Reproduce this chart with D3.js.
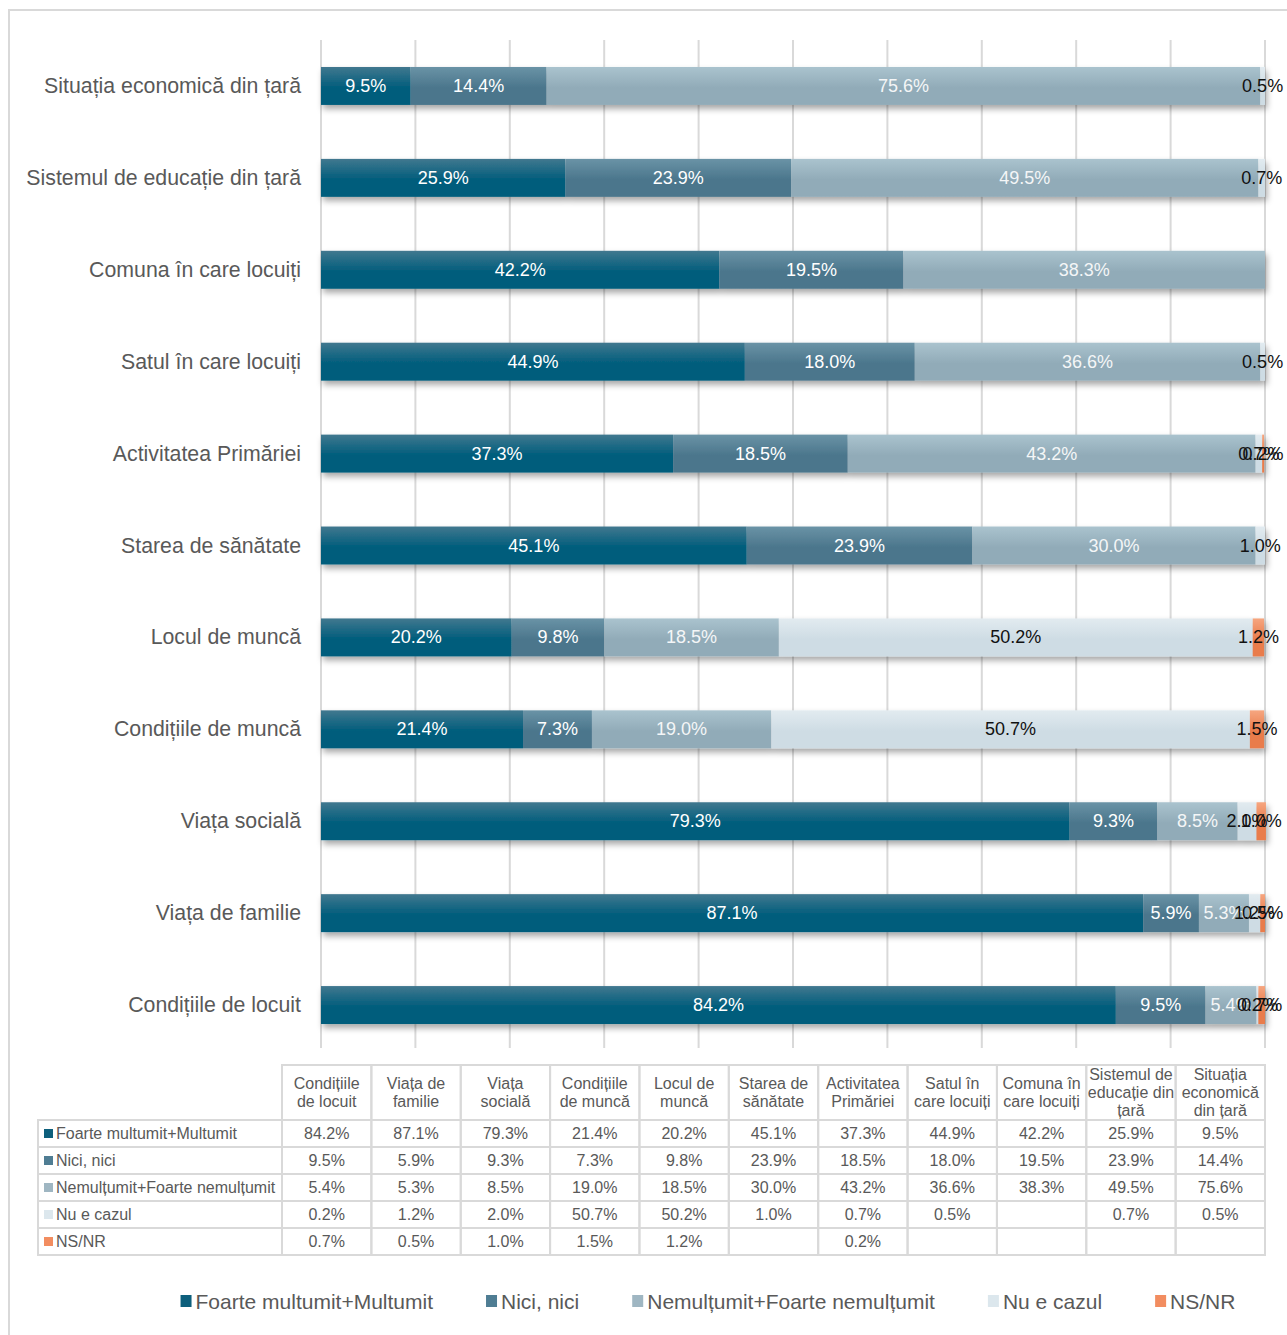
<!DOCTYPE html>
<html>
<head>
<meta charset="utf-8">
<script src="https://cdn.jsdelivr.net/npm/d3@7"></script>
<style>
  body { margin: 0; background: #fff; }
  text { font-family: "Liberation Sans", Arial, sans-serif; }
</style>
</head>
<body>
<svg id="chart"></svg>
<script>
// categories in table order (first one is drawn at the bottom of the bar chart)
const categories = ["Condițiile de locuit", "Viața de familie", "Viața socială", "Condițiile de muncă",
  "Locul de muncă", "Starea de sănătate", "Activitatea Primăriei", "Satul în care locuiți",
  "Comuna în care locuiți", "Sistemul de educație din țară", "Situația economică din țară"];
const headerLines = [["Condițiile", "de locuit"], ["Viața de", "familie"], ["Viața", "socială"],
  ["Condițiile", "de muncă"], ["Locul de", "muncă"], ["Starea de", "sănătate"], ["Activitatea", "Primăriei"],
  ["Satul în", "care locuiți"], ["Comuna în", "care locuiți"], ["Sistemul de", "educație din", "țară"],
  ["Situația", "economică", "din țară"]];

const seriesNames = ["Foarte multumit+Multumit", "Nici, nici", "Nemulțumit+Foarte nemulțumit", "Nu e cazul", "NS/NR"];
const foarte = [84.2, 87.1, 79.3, 21.4, 20.2, 45.1, 37.3, 44.9, 42.2, 25.9, 9.5];
const nici = [9.5, 5.9, 9.3, 7.3, 9.8, 23.9, 18.5, 18.0, 19.5, 23.9, 14.4];
const nemultumit = [5.4, 5.3, 8.5, 19.0, 18.5, 30.0, 43.2, 36.6, 38.3, 49.5, 75.6];
const nuECazul = [0.2, 1.2, 2.0, 50.7, 50.2, 1.0, 0.7, 0.5, null, 0.7, 0.5];
const nsnr = [0.7, 0.5, 1.0, 1.5, 1.2, null, 0.2, null, null, null, null];
const seriesValues = [foarte, nici, nemultumit, nuECazul, nsnr];

const flatColors = ["#0d5f7c", "#4f7d93", "#9fb6c2", "#dce7ed", "#f28d60"];
const gradTop = ["#41788f", "#6a93a6", "#aac3ce", "#e2ebf0", "#f6a680"];
const gradBot = ["#005d7c", "#4b768c", "#91abb8", "#cedce4", "#e97c4c"];
const labelColors = ["#ffffff", "#ffffff", "#f4f6f7", "#111111", "#111111"];

const W = 1287, H = 1335;
const svg = d3.select("#chart").attr("width", W).attr("height", H);

const defs = svg.append("defs");
seriesNames.forEach((s, i) => {
  const g = defs.append("linearGradient").attr("id", "grad" + i)
    .attr("x1", 0).attr("y1", 0).attr("x2", 0).attr("y2", 1);
  g.append("stop").attr("offset", "0%").attr("stop-color", gradTop[i]);
  g.append("stop").attr("offset", "55%").attr("stop-color", gradBot[i]);
  g.append("stop").attr("offset", "100%").attr("stop-color", gradBot[i]);
});
const f = defs.append("filter").attr("id", "shadow")
  .attr("x", "-5%").attr("y", "-30%").attr("width", "110%").attr("height", "180%");
f.append("feDropShadow").attr("dx", 2).attr("dy", 4).attr("stdDeviation", 3)
  .attr("flood-color", "#000").attr("flood-opacity", 0.35);

// outer frame
svg.append("rect").attr("x", 9).attr("y", 10).attr("width", W + 20).attr("height", H + 20)
  .attr("fill", "none").attr("stroke", "#d9d9d9").attr("stroke-width", 2);

const x = d3.scaleLinear().domain([0, 100]).range([321, 1265]);
const y = d3.scaleBand().domain(categories.slice().reverse()).range([40, 1051])
  .paddingInner(0.587).paddingOuter(0.2935);

// gridlines
svg.append("g").selectAll("line").data(x.ticks(10)).join("line")
  .attr("x1", d => x(d)).attr("x2", d => x(d))
  .attr("y1", 40).attr("y2", 1048)
  .attr("stroke", "#d9d9d9").attr("stroke-width", 2);

// category labels
svg.append("g").selectAll("text").data(categories).join("text")
  .attr("x", 301).attr("y", d => y(d) + y.bandwidth() / 2)
  .attr("text-anchor", "end").attr("dominant-baseline", "central")
  .attr("font-size", 21.3).attr("fill", "#595959").text(d => d);

// stacked data
const rows = categories.map((c, ci) => {
  const r = { cat: c };
  seriesNames.forEach((s, si) => r[s] = seriesValues[si][ci] || 0);
  return r;
});
const stack = d3.stack().keys(seriesNames)(rows);

const barG = svg.append("g");
categories.forEach((c, ci) => {
  const g = barG.append("g").attr("filter", "url(#shadow)");
  stack.forEach((layer, si) => {
    const d = layer[ci];
    if (d[1] - d[0] <= 0) return;
    g.append("rect").attr("x", x(d[0])).attr("y", y(c))
      .attr("width", x(d[1]) - x(d[0])).attr("height", y.bandwidth())
      .attr("fill", "url(#grad" + si + ")");
  });
});

const labG = svg.append("g");
categories.forEach((c, ci) => {
  stack.forEach((layer, si) => {
    const d = layer[ci];
    const v = seriesValues[si][ci];
    if (v == null) return;
    labG.append("text").attr("x", x((d[0] + d[1]) / 2)).attr("y", y(c) + y.bandwidth() / 2)
      .attr("text-anchor", "middle").attr("dominant-baseline", "central")
      .attr("font-size", 18).attr("fill", labelColors[si]).text(v.toFixed(1) + "%");
  });
});

// data table
const tLeft = 38, tCol0 = 282, tRight = 1265, tTop = 1065, headH = 55, rowH = 27;
const col = d3.scaleBand().domain(categories).range([tCol0, tRight]);
const tableG = svg.append("g");
const lineC = "#d9d9d9";
// header cells
categories.forEach((c, ci) => {
  tableG.append("rect").attr("x", col(c)).attr("y", tTop).attr("width", col.bandwidth()).attr("height", headH)
    .attr("fill", "none").attr("stroke", lineC).attr("stroke-width", 2);
  const lines = headerLines[ci];
  const cy = tTop + headH / 2;
  lines.forEach((ln, li) => {
    tableG.append("text").attr("x", col(c) + col.bandwidth() / 2)
      .attr("y", cy + (li - (lines.length - 1) / 2) * 18)
      .attr("text-anchor", "middle").attr("dominant-baseline", "central")
      .attr("font-size", 16).attr("fill", "#595959").text(ln);
  });
});
// body rows
seriesNames.forEach((s, si) => {
  const ry = tTop + headH + si * rowH;
  tableG.append("rect").attr("x", tLeft).attr("y", ry).attr("width", tCol0 - tLeft).attr("height", rowH)
    .attr("fill", "none").attr("stroke", lineC).attr("stroke-width", 2);
  tableG.append("rect").attr("x", tLeft + 6).attr("y", ry + rowH / 2 - 4.5).attr("width", 9).attr("height", 9)
    .attr("fill", flatColors[si]);
  tableG.append("text").attr("x", tLeft + 18).attr("y", ry + rowH / 2)
    .attr("dominant-baseline", "central").attr("font-size", 16).attr("fill", "#595959").text(s);
  categories.forEach((c, ci) => {
    tableG.append("rect").attr("x", col(c)).attr("y", ry).attr("width", col.bandwidth()).attr("height", rowH)
      .attr("fill", "none").attr("stroke", lineC).attr("stroke-width", 2);
    const v = seriesValues[si][ci];
    if (v == null) return;
    tableG.append("text").attr("x", col(c) + col.bandwidth() / 2).attr("y", ry + rowH / 2)
      .attr("text-anchor", "middle").attr("dominant-baseline", "central")
      .attr("font-size", 16).attr("fill", "#595959").text(v.toFixed(1) + "%");
  });
});

// legend
const legG = svg.append("g");
const items = seriesNames.map((s, i) => {
  const g = legG.append("g");
  g.append("rect").attr("x", 0).attr("y", -6).attr("width", 11).attr("height", 12).attr("fill", flatColors[i]);
  const t = g.append("text").attr("x", 15).attr("y", 0).attr("dominant-baseline", "central")
    .attr("font-size", 21).attr("fill", "#595959").text(s);
  return { g, w: 15 + t.node().getComputedTextLength() };
});
const gap = 53;
const total = d3.sum(items, d => d.w) + gap * (items.length - 1);
let lx = 708 - total / 2;
items.forEach(it => {
  it.g.attr("transform", `translate(${lx},1301)`);
  lx += it.w + gap;
});
</script>
</body>
</html>
